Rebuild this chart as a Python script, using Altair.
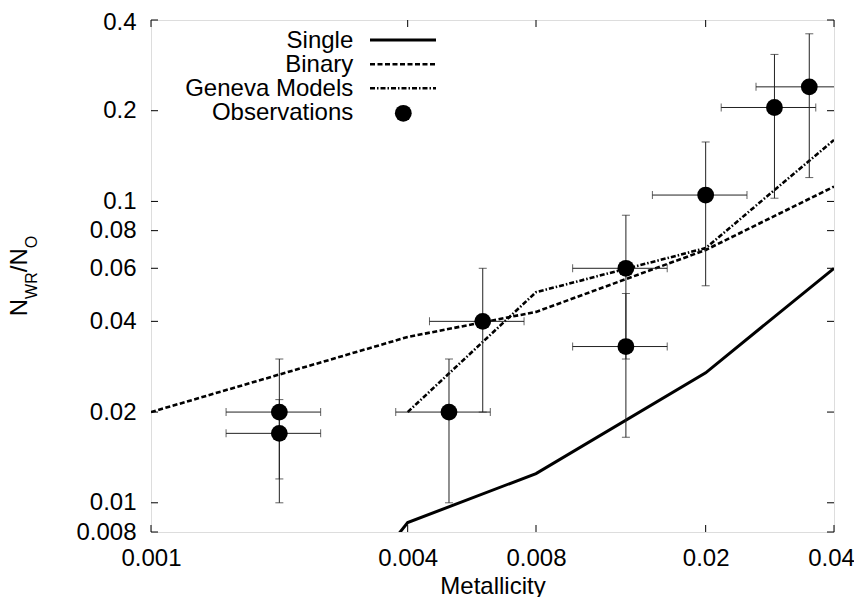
import altair as alt
import pandas as pd

FONT = "Liberation Sans"

# ---------------- data ----------------
# Observations (metallicity, N_WR/N_O) with error bars
obs_z = [0.002, 0.002, 0.005, 0.006, 0.013, 0.013, 0.02, 0.029, 0.035]
obs_z_lo = [0.0015, 0.0015, 0.00375, 0.0045, 0.00975, 0.00975, 0.015, 0.02175, 0.02625]
obs_z_hi = [0.0025, 0.0025, 0.00625, 0.0075, 0.01625, 0.01625, 0.025, 0.03625, 0.04375]
obs_r = [0.02, 0.017, 0.02, 0.04, 0.06, 0.033, 0.105, 0.205, 0.24]
obs_r_lo = [0.01, 0.012, 0.01, 0.02, 0.03, 0.0165, 0.0525, 0.1025, 0.12]
obs_r_hi = [0.03, 0.022, 0.03, 0.06, 0.09, 0.0495, 0.1575, 0.3075, 0.36]

# Model curves
single_z = [0.002, 0.004, 0.008, 0.02, 0.04]
single_r = [0.0025, 0.0086, 0.0125, 0.027, 0.06]
binary_z = [0.001, 0.004, 0.008, 0.02, 0.04]
binary_r = [0.02, 0.0355, 0.043, 0.069, 0.112]
geneva_z = [0.004, 0.008, 0.02, 0.04]
geneva_r = [0.02, 0.05, 0.07, 0.16]

# Axis ticks
x_ticks = [0.001, 0.004, 0.008, 0.02, 0.04]
y_ticks = [0.008, 0.01, 0.02, 0.04, 0.06, 0.08, 0.1, 0.2, 0.4]

legend_labels = ["Single", "Binary", "Geneva Models", "Observations"]

# ---------------- tables ----------------
obs = pd.DataFrame({"z": obs_z, "z_lo": obs_z_lo, "z_hi": obs_z_hi,
                    "r": obs_r, "r_lo": obs_r_lo, "r_hi": obs_r_hi})
single = pd.DataFrame({"z": single_z, "r": single_r})
binary = pd.DataFrame({"z": binary_z, "r": binary_r})
geneva = pd.DataFrame({"z": geneva_z, "r": geneva_r})
xt = pd.DataFrame({"z": x_ticks})
yt = pd.DataFrame({"r": y_ticks})

W, H = 683, 512

xs = alt.Scale(type="log", domain=[0.001, 0.04], nice=False)
ys = alt.Scale(type="log", domain=[0.008, 0.4], nice=False)

xaxis = alt.Axis(values=x_ticks, format="~g", ticks=False, tickSize=0, domain=False,
                 grid=False, labelFont=FONT, labelFontSize=24, labelColor="black",
                 labelPadding=33, labelBaseline="alphabetic", labelFlush=False,
                 labelOverlap=False,
                 labelOffset={"condition": {"test": "datum.value > 0.039", "value": -3},
                              "value": 0},
                 title="Metallicity", titleFont=FONT,
                 titleFontSize=24, titleFontWeight="normal", titleColor="black",
                 titleY=61, titleBaseline="alphabetic")
yaxis = alt.Axis(values=y_ticks, format="~g", ticks=False, tickSize=0, domain=False,
                 grid=False, labelFont=FONT, labelFontSize=24, labelColor="black",
                 labelPadding=15, labelFlush=False, labelOverlap=False,
                 labelOffset={"condition": {"test": "datum.value > 0.39", "value": 2},
                              "value": 0},
                 title=None)

X = lambda f: alt.X(f"{f}:Q", scale=xs, axis=xaxis)
Y = lambda f: alt.Y(f"{f}:Q", scale=ys, axis=yaxis)

layers = []

# inward ticks (gnuplot style), all four sides
layers.append(alt.Chart(xt).mark_rule(color="black", strokeWidth=1)
              .encode(x=X("z"), y=alt.value(H), y2=alt.value(H - 7)))
layers.append(alt.Chart(xt).mark_rule(color="black", strokeWidth=1)
              .encode(x=X("z"), y=alt.value(0), y2=alt.value(7)))
layers.append(alt.Chart(yt).mark_rule(color="black", strokeWidth=1)
              .encode(y=Y("r"), x=alt.value(0), x2=alt.value(7)))
layers.append(alt.Chart(yt).mark_rule(color="black", strokeWidth=1)
              .encode(y=Y("r"), x=alt.value(W - 7), x2=alt.value(W)))

# model lines
layers.append(alt.Chart(single).mark_line(color="black", strokeWidth=3, clip=True)
              .encode(x=X("z"), y=Y("r")))
layers.append(alt.Chart(binary).mark_line(color="black", strokeWidth=2.6,
                                          strokeDash=[5, 2.5], clip=True)
              .encode(x=X("z"), y=Y("r")))
layers.append(alt.Chart(geneva).mark_line(color="black", strokeWidth=2.6,
                                          strokeDash=[5, 2, 1.5, 2], clip=True)
              .encode(x=X("z"), y=Y("r")))

# error bars
eb_color = "#222222"
layers.append(alt.Chart(obs).mark_rule(color=eb_color, strokeWidth=1, clip=True)
              .encode(x=X("z"), y=Y("r_lo"), y2="r_hi:Q"))
layers.append(alt.Chart(obs).mark_rule(color=eb_color, strokeWidth=1, clip=True)
              .encode(y=Y("r"), x=X("z_lo"), x2="z_hi:Q"))
for f in ["r_lo", "r_hi"]:
    layers.append(alt.Chart(obs).mark_tick(color=eb_color, orient="horizontal",
                                           size=8, thickness=1, clip=True)
                  .encode(x=X("z"), y=Y(f)))
for f in ["z_lo", "z_hi"]:
    layers.append(alt.Chart(obs).mark_tick(color=eb_color, orient="vertical",
                                           size=8, thickness=1, clip=True)
                  .encode(x=X(f), y=Y("r")))

# observation points
layers.append(alt.Chart(obs).mark_circle(color="black", opacity=1, size=283, clip=True)
              .encode(x=X("z"), y=Y("r")))

# ---------------- key (gnuplot layout: text then sample) ----------------
text_base = [27.7, 51.7, 75.7, 99.7]
sample_y = [20, 44.3, 68.3, 93.3]
for lab, yb in zip(legend_labels, text_base):
    layers.append(alt.Chart(pd.DataFrame({"t": [lab]}))
                  .mark_text(align="right", baseline="alphabetic", font=FONT,
                             fontSize=24, color="black")
                  .encode(x=alt.value(202.3), y=alt.value(yb), text="t:N"))
layers.append(alt.Chart(pd.DataFrame({"t": ["Single"]}))
              .mark_rule(color="black", strokeWidth=3)
              .encode(x=alt.value(219), x2=alt.value(285), y=alt.value(sample_y[0])))
layers.append(alt.Chart(pd.DataFrame({"t": ["Binary"]}))
              .mark_rule(color="black", strokeWidth=2.6, strokeDash=[5, 2.5])
              .encode(x=alt.value(219), x2=alt.value(285), y=alt.value(sample_y[1])))
layers.append(alt.Chart(pd.DataFrame({"t": ["Geneva"]}))
              .mark_rule(color="black", strokeWidth=2.6, strokeDash=[5, 2, 1.5, 2])
              .encode(x=alt.value(219), x2=alt.value(285), y=alt.value(sample_y[2])))
layers.append(alt.Chart(pd.DataFrame({"t": ["Obs"]}))
              .mark_circle(color="black", opacity=1, size=283)
              .encode(x=alt.value(252.3), y=alt.value(sample_y[3])))

# ---------------- y title N_WR/N_O with subscripts ----------------
pieces = [("N", 24, -124.5, 296.2), ("WR", 16, -114.5, 278.9), ("/", 24, -124.5, 252.2),
          ("N", 24, -124.5, 245.5), ("O", 16, -114.5, 228.2)]
for txt, fs, px, py in pieces:
    layers.append(alt.Chart(pd.DataFrame({"t": [txt]}))
                  .mark_text(align="left", baseline="alphabetic", angle=270,
                             font=FONT, fontSize=fs, color="black")
                  .encode(x=alt.value(px), y=alt.value(py), text="t:N"))

chart = (alt.layer(*layers)
         .properties(width=W, height=H,
                     autosize=alt.AutoSizeParams(type="none"),
                     padding={"left": 143, "top": 12, "right": 20, "bottom": 65})
         .configure_view(stroke="black", strokeWidth=1.5)
         .configure(background="white"))

chart.save("out.html", embed_options={"renderer": "svg", "actions": False})
